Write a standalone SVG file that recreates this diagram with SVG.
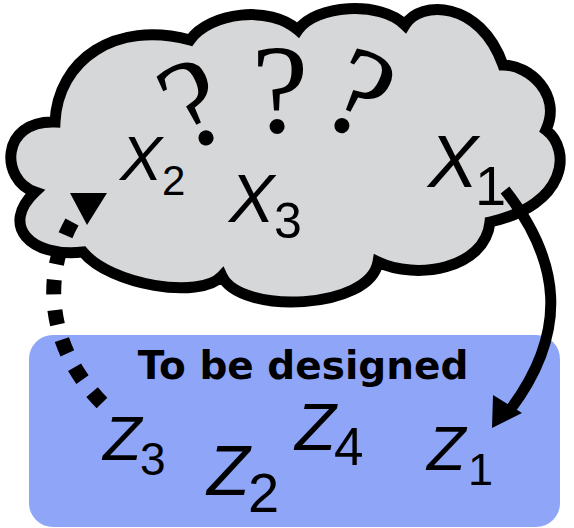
<svg xmlns="http://www.w3.org/2000/svg" width="574" height="528" viewBox="0 0 574 528">
<style>
.var{font-family:"Liberation Sans",Arial,sans-serif;font-style:italic;fill:#000}
.sub{font-family:"Liberation Sans",Arial,sans-serif;fill:#000}
.q{font-family:"Liberation Serif","Times New Roman",serif;font-size:128px;text-anchor:middle;fill:#000}
.title{font-family:"DejaVu Sans",sans-serif;font-weight:bold;font-size:39px;text-anchor:middle;fill:#000}
</style>
<rect width="574" height="528" fill="#fff"/>
<g id="designed">
<rect x="29" y="335" width="531" height="192" rx="24" fill="#8fa6f8"/>
<text class="title" x="303" y="379">To be designed</text>
<text class="var" x="103" y="460" font-size="63">Z</text><text class="sub" x="140" y="475" font-size="46">3</text>
<text class="var" x="207" y="495" font-size="70">Z</text><text class="sub" x="248" y="512" font-size="56">2</text>
<text class="var" x="295" y="450" font-size="67">Z</text><text class="sub" x="334" y="465" font-size="53">4</text>
<text class="var" x="427" y="470" font-size="63">Z</text><text class="sub" x="468" y="485" font-size="45">1</text>
</g>
<g id="cloud">
<path d="M55,122 C58,60 115,20 190,40 C210,12 270,5 298,30 C315,5 380,0 405,25 C420,0 480,0 503,65 C530,65 562,95 546,130 C572,150 567,205 490,222 C485,270 415,280 378,262 C370,310 240,315 222,276 C200,300 110,285 83,252 C30,258 0,225 35,192 C0,180 0,120 55,122 Z" fill="#d6d7d9" stroke="#000" stroke-width="11" stroke-linejoin="miter"/>
<text class="q" x="280" y="132">?</text>
<text class="q" transform="translate(211,142) rotate(-25)">?</text>
<text class="q" transform="translate(342,132) rotate(25)">?</text>
<text class="var" x="120" y="180" font-size="63">X</text><text class="sub" x="162" y="195" font-size="42">2</text>
<text class="var" x="229" y="222" font-size="68">X</text><text class="sub" x="274" y="238" font-size="50">3</text>
<text class="var" x="428" y="187" font-size="75">X</text><text class="sub" x="475" y="205" font-size="56">1</text>
</g>
<g id="connectors">
<path d="M505,190 C560,260 570,330 510,410" fill="none" stroke="#000" stroke-width="11"/>
<polygon points="493,395 522,413 492,428" fill="#000"/>
<path d="M102,403 C50,350 40,280 72,222" fill="none" stroke="#000" stroke-width="15" stroke-dasharray="15 16" pathLength="201"/>
<polygon points="70,193 107,193 87,225" fill="#000"/>
</g>
</svg>
